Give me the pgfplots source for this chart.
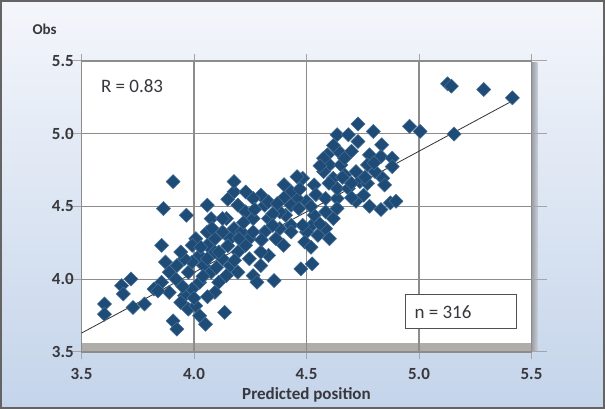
\documentclass[border=0pt]{standalone}
\usepackage{pgfplots}
\pgfplotsset{compat=1.18}
\usepackage{fontspec}
\setmainfont{Carlito}
\definecolor{mk}{RGB}{30,76,118}
\definecolor{mkedge}{RGB}{70,110,150}
\definecolor{gridc}{RGB}{140,140,140}
\definecolor{tickc}{RGB}{165,165,165}
\definecolor{txt}{RGB}{55,55,60}
\definecolor{bgtop}{RGB}{244,246,251}
\definecolor{bgbot}{RGB}{196,212,234}
\definecolor{frame}{RGB}{100,100,100}
\definecolor{shadow}{RGB}{176,172,168}
\definecolor{shadowR}{RGB}{150,152,158}
\definecolor{shadowL}{RGB}{200,206,216}
\definecolor{boxc}{RGB}{80,80,80}
\begin{document}
\begin{tikzpicture}[x=1pt,y=1pt]
\useasboundingbox (0,0) rectangle (605,409);
\shade[top color=bgtop, bottom color=bgbot] (0,0) rectangle (605,409);
\draw[line width=1.5pt, frame] (1,1) rectangle (604,408);
\shade[left color=shadowR, right color=shadowL] (531,57) rectangle (537.5,346);
\begin{axis}[
  at={(81.5pt,57pt)}, anchor=south west,
  width=450pt, height=291pt, scale only axis,
  xmin=3.5, xmax=5.5, ymin=3.5, ymax=5.5,
  xtick={3.5,4.0,4.5,5.0,5.5}, ytick={3.5,4.0,4.5,5.0,5.5},
  xticklabels={3.5,4.0,4.5,5.0,5.5}, yticklabels={3.5,4.0,4.5,5.0,5.5},
  grid=major, grid style={gridc, line width=1.2pt},
  axis line style={gridc, line width=1.2pt},
  tick align=outside,
  xtick style={tickc, line width=1pt, /pgfplots/major tick length=7pt},
  ytick style={tickc, line width=1pt, /pgfplots/major tick length=15pt},
  axis background/.style={fill=white, path picture={\fill[shadow] (path picture bounding box.south west) rectangle ([yshift=9pt]path picture bounding box.south east);}},
  /pgf/number format/assume math mode=true,
  ticklabel style={font=\fontsize{17}{19}\selectfont\bfseries, text=txt},
  xticklabel style={yshift=-9pt},
  xlabel={Predicted position},
  xlabel style={font=\fontsize{17}{19}\selectfont\bfseries, text=txt, at={(rel axis cs:0.5,-0.146)}, anchor=center},
  ylabel={Obs},
  ylabel style={font=\fontsize{15}{17}\selectfont\bfseries, text=txt, rotate=-90, at={(rel axis cs:-0.082,1.110)}, anchor=center},
  clip=false,
]
\addplot[only marks, mark=square*, mark size=5pt, mark options={rotate=45, fill=mk, draw=mkedge, line width=0.5pt}] coordinates {
(5.127,5.343) (5.144,5.327) (5.288,5.304) (5.415,5.247) (5.156,4.998) (4.958,5.051) (5.005,5.016)
(4.729,5.067) (4.636,4.993) (4.686,4.993) (4.729,4.947) (4.797,5.016) (4.834,4.924) (4.780,4.855)
(4.831,4.843) (4.881,4.832) (4.881,4.774) (4.593,4.855) (4.644,4.878) (4.602,4.786) (4.653,4.786)
(4.576,4.740) (4.619,4.694) (4.669,4.717) (4.720,4.740) (4.737,4.671) (4.771,4.659) (4.805,4.740)
(4.839,4.694) (4.847,4.648) (4.720,4.536) (4.780,4.502) (4.831,4.479) (4.873,4.525) (4.898,4.536)
(4.534,4.648) (4.483,4.694) (4.458,4.705) (4.542,4.582) (4.500,4.536) (4.585,4.555) (4.636,4.555)
(4.636,4.487) (4.619,4.417) (4.585,4.348) (4.525,4.371) (4.500,4.325) (4.551,4.302) (4.492,4.256)
(4.475,4.071) (4.525,4.106) (4.458,4.555) (4.432,4.509) (4.407,4.440) (4.432,4.371) (4.381,4.348)
(4.364,4.279) (4.398,4.233) (4.356,3.991) (4.331,4.164) (4.297,4.094) (4.263,4.025) (4.280,3.979)
(4.246,4.141) (4.297,4.187) (4.246,4.279) (4.314,4.325) (4.331,4.417) (4.314,4.509) (4.297,4.578)
(4.263,4.555) (4.229,4.463) (4.195,4.509) (4.178,4.601) (4.178,4.671) (4.144,4.417) (4.178,4.348)
(4.212,4.325) (4.229,4.233) (4.161,4.279) (4.127,4.325) (4.093,4.279) (4.059,4.325) (4.008,4.279)
(4.059,4.233) (4.093,4.187) (4.127,4.141) (4.161,4.094) (4.144,4.025) (4.110,3.979) (4.076,4.048)
(4.042,4.094) (4.025,4.164) (3.992,4.118) (3.975,4.048) (4.025,3.979) (3.992,3.933) (3.958,3.887)
(3.941,3.841) (3.975,3.795) (4.008,3.818) (4.025,3.749) (4.051,3.691) (4.136,3.772) (3.907,3.714)
(3.924,3.657) (4.059,4.509) (3.966,4.440) (3.864,4.486) (3.907,4.671) (3.856,4.233) (3.873,4.118)
(3.890,4.048) (3.924,4.094) (3.958,4.141) (3.856,3.979) (3.822,3.933) (3.890,3.910) (3.780,3.830)
(3.729,3.806) (3.720,4.002) (3.678,3.956) (3.686,3.899) (3.602,3.830) (3.602,3.760)
(4.076,4.417) (3.992,4.233) (3.941,4.187)
(4.432,4.601) (4.585,4.463) (4.602,4.279) (4.576,4.832) (4.669,4.832) (4.432,4.325) (4.381,4.463)
(4.331,4.532) (4.263,4.417) (4.195,4.187) (4.263,4.325) (4.110,4.187) (4.059,4.141) (4.195,4.048)
(4.127,4.417) (4.093,3.910) (4.466,4.486) (4.636,4.624) (4.686,4.624) (4.754,4.578) (4.771,4.786)
(4.534,4.440) (4.483,4.371)
(4.350,4.450) (4.400,4.560) (4.470,4.620) (4.520,4.500) (4.600,4.660) (4.660,4.700) (4.700,4.660)
(4.560,4.780) (4.620,4.920) (4.700,4.880) (4.350,4.370) (4.300,4.270) (4.220,4.390) (4.150,4.230)
(4.080,4.350) (4.030,4.220) (4.040,4.020) (4.100,4.080) (4.180,4.130) (4.200,4.280) (4.270,4.480)
(4.370,4.520) (4.520,4.220) (4.560,4.380) (4.800,4.800) (4.760,4.700) (3.950,3.950) (4.000,3.870)
(4.060,3.880) (3.920,4.000) (3.840,3.920) (4.150,4.550) (4.230,4.600) (4.400,4.650) (4.700,4.560)
};
\addplot[black!80, line width=0.8pt] coordinates {(3.5,3.63) (5.42,5.23)};
\node[anchor=west, font=\fontsize{19}{21}\selectfont, text=txt] at (axis cs:3.571,5.328) {R = 0.83};
\node[draw=boxc, line width=1pt, fill=white, minimum width=111pt, minimum height=34pt, inner sep=0pt, font=\fontsize{19}{21}\selectfont, text=txt] at (axis cs:5.187,3.775) {\makebox[93pt][l]{n = 316}};
\end{axis}
\end{tikzpicture}
\end{document}
